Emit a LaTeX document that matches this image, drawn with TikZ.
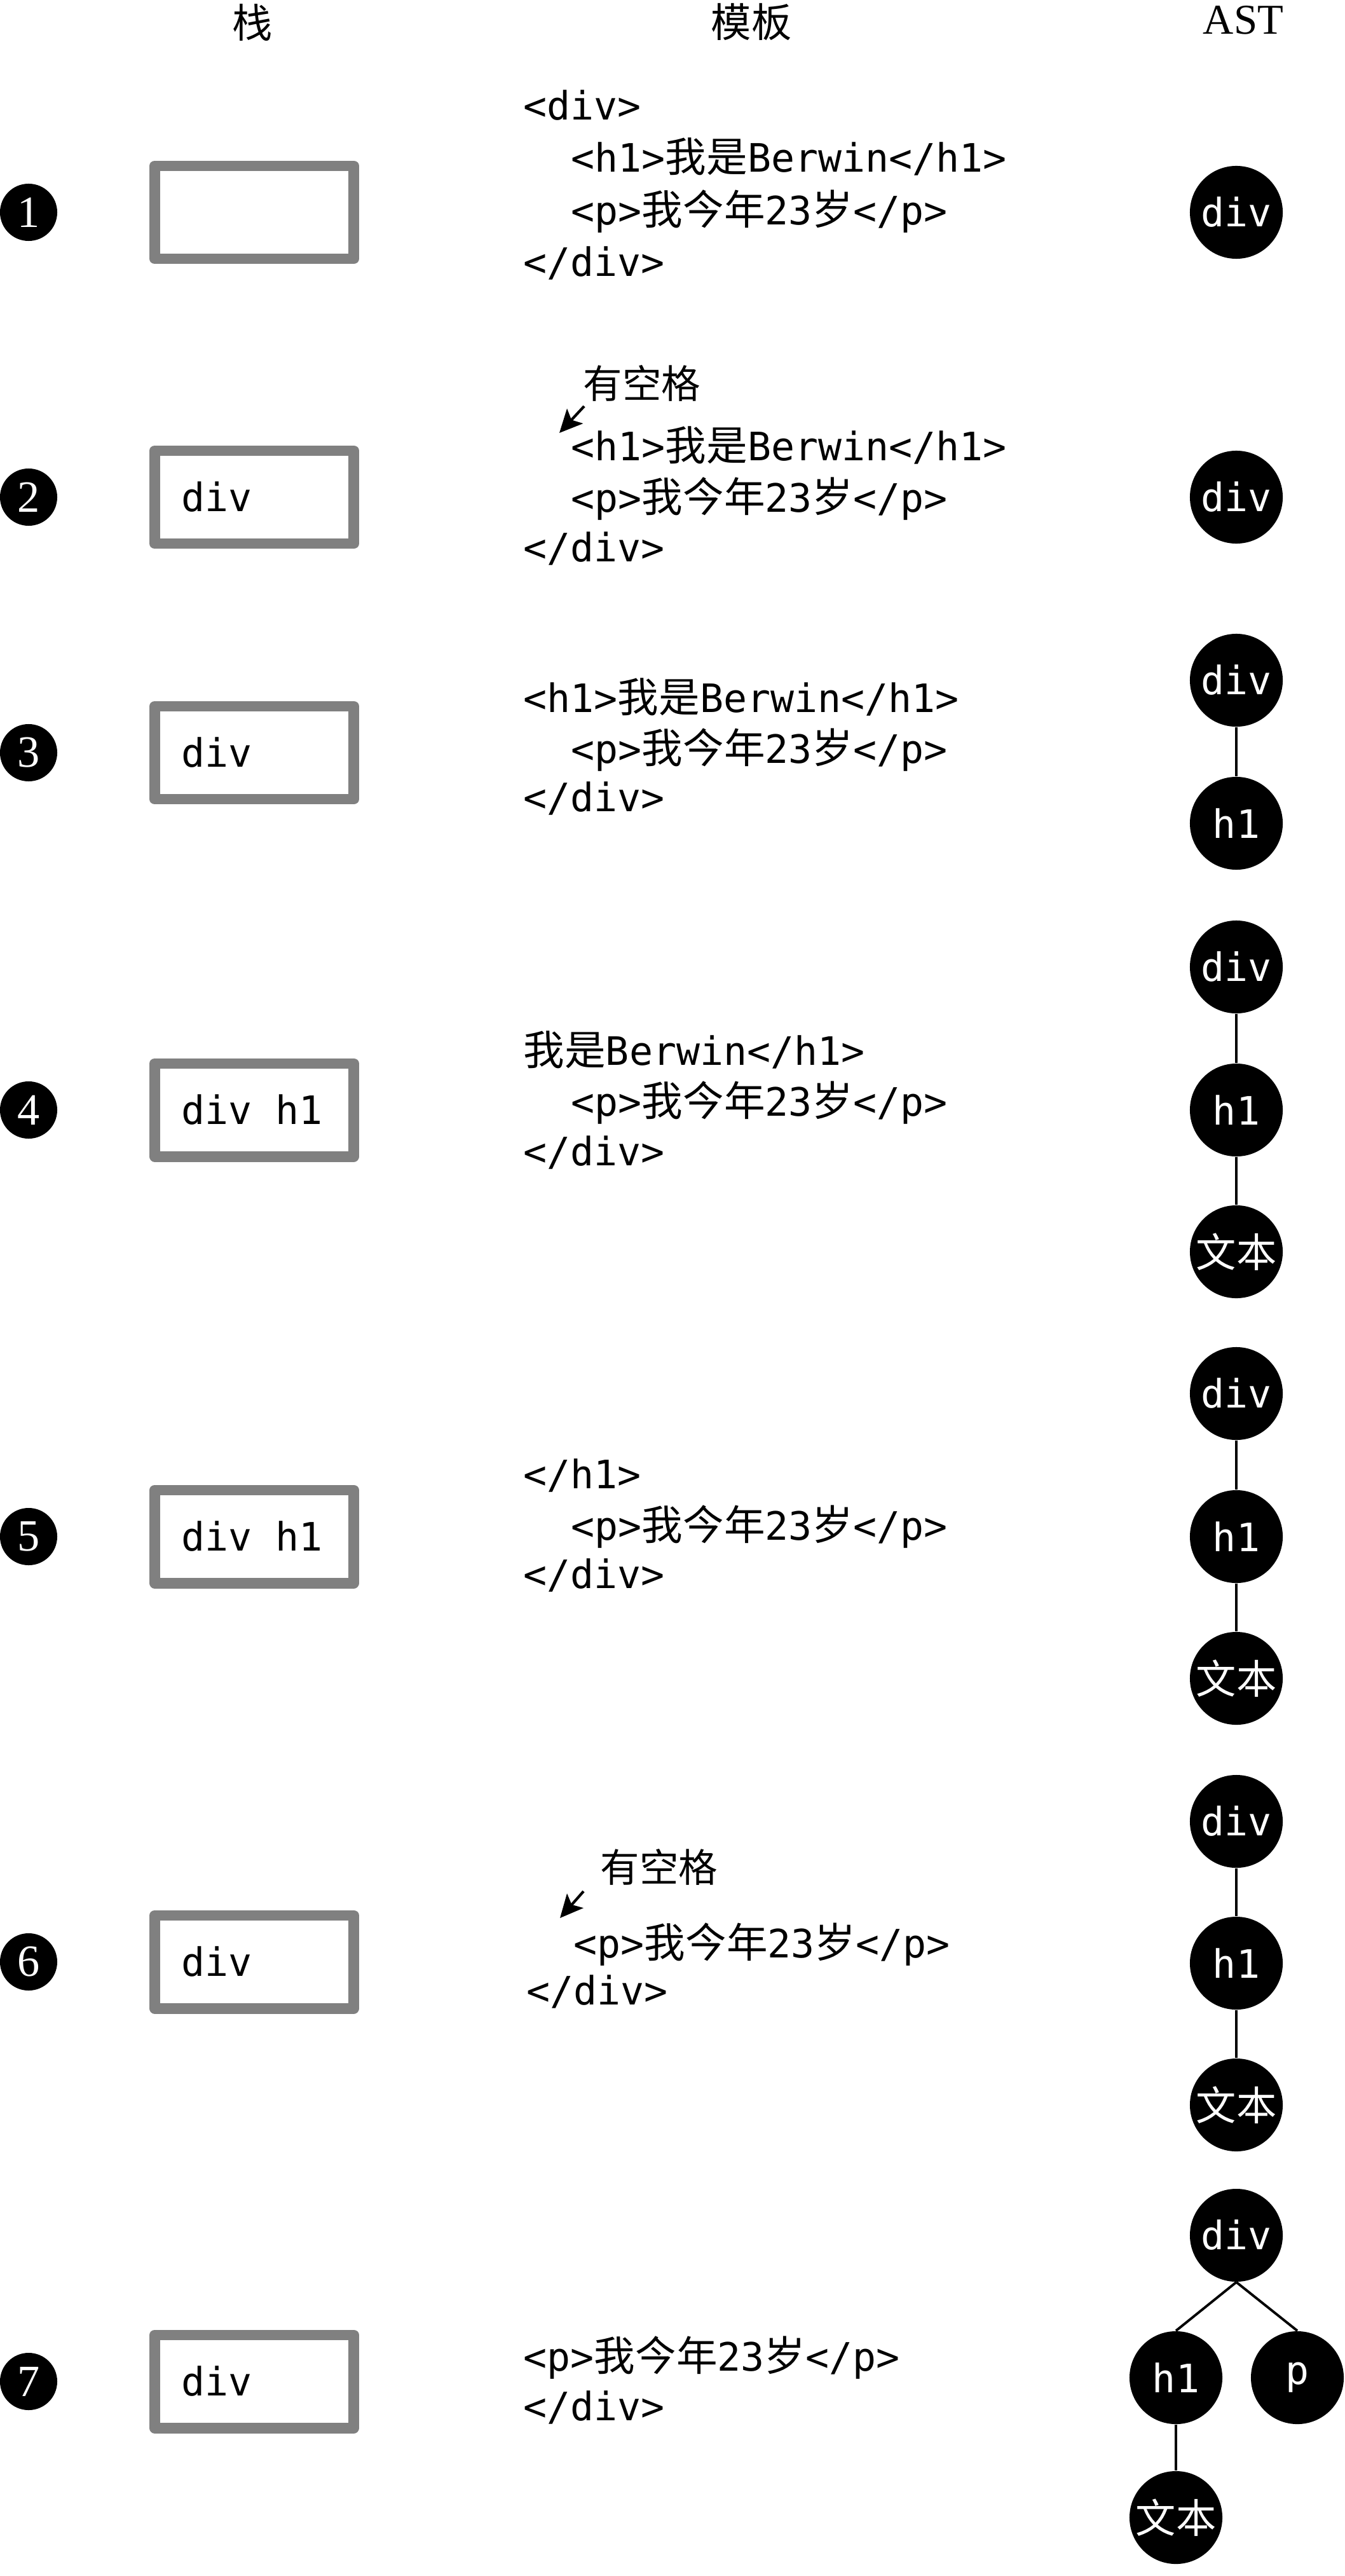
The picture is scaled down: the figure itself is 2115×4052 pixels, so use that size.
\documentclass[tikz,border=0pt]{standalone}
\usepackage{fontspec}
\setmainfont{Liberation Serif}
\setmonofont{DejaVu Sans Mono}
\newfontfamily\cjk{Noto Sans CJK SC}[Scale=1.05]
\newfontfamily\cjkh{Noto Sans CJK SC}
\usetikzlibrary{arrows.meta}
\newcommand{\codefont}{\fontsize{17.5}{21}\selectfont\ttfamily}
\begin{document}
\begin{tikzpicture}[x=0.01cm,y=-0.01cm,
  num/.style={circle,fill=black,minimum size=0.9cm,inner sep=0pt,text=white,font=\fontsize{20}{20}\selectfont\rmfamily},
  stackbox/.style={draw=black!50,line width=4.8pt,line join=round,minimum width=3.13cm,minimum height=1.46cm,inner sep=0pt},
  stacktext/.style={anchor=base west,inner sep=0pt,font=\codefont},
  code/.style={anchor=base west,inner sep=0pt,font=\codefont},
  head/.style={inner sep=0pt},
  note/.style={anchor=west,inner sep=0pt,font=\fontsize{17.5}{20}\selectfont\cjkh},
  ast/.style={circle,fill=black,minimum size=1.46cm,inner sep=0pt,text=white,font=\codefont},
  edge/.style={line width=1.1pt},
  arr/.style={line width=1.2pt,-{Stealth[length=0.36cm,width=0.34cm,inset=0.08cm]}}
]
\useasboundingbox (0,0) rectangle (2115,4052);

% headers
\node[head,font=\fontsize{18}{20}\selectfont\cjkh] (hstack) at (397,35) {栈};
\node[head,font=\fontsize{18}{20}\selectfont\cjkh] (htpl) at (1182,35) {模板};
\node[head,font=\fontsize{19}{20}\selectfont\rmfamily] (hast) at (1956,32) {AST};

% number circles
\node[num] (n1) at (45,334) {1};
\node[num] (n2) at (45,782) {2};
\node[num] (n3) at (45,1184) {3};
\node[num] (n4) at (45,1746) {4};
\node[num] (n5) at (45,2417) {5};
\node[num] (n6) at (45,3086) {6};
\node[num] (n7) at (45,3746) {7};

% stack boxes
\node[stackbox] (s1) at (400,334) {};
\node[stackbox] (s2) at (400,782) {};
\node[stackbox] (s3) at (400,1184) {};
\node[stackbox] (s4) at (400,1746) {};
\node[stackbox] (s5) at (400,2417) {};
\node[stackbox] (s6) at (400,3086) {};
\node[stackbox] (s7) at (400,3746) {};
\node[stacktext] (t2) at (285,804) {div};
\node[stacktext] (t3) at (285,1206) {div};
\node[stacktext] (t4) at (285,1768) {div h1};
\node[stacktext] (t5) at (285,2439) {div h1};
\node[stacktext] (t6) at (285,3108) {div};
\node[stacktext] (t7) at (285,3768) {div};

% template code
% row 1
\node[code] (c1a) at (823,189) {<div>};
\node[code] (c1b) at (898,271) {<h1>{\cjk 我是}Berwin</h1>};
\node[code] (c1c) at (898,354) {<p>{\cjk 我今年}23{\cjk 岁}</p>};
\node[code] (c1d) at (823,435) {</div>};
% row 2
\node[note] (k2) at (917,603) {有空格};
\coordinate (k2s) at (919,639);
\coordinate (k2e) at (880,681);
\draw[arr] (k2s) -- (k2e);
\node[code] (c2b) at (898,724) {<h1>{\cjk 我是}Berwin</h1>};
\node[code] (c2c) at (898,805) {<p>{\cjk 我今年}23{\cjk 岁}</p>};
\node[code] (c2d) at (823,883) {</div>};
% row 3
\node[code] (c3b) at (823,1120) {<h1>{\cjk 我是}Berwin</h1>};
\node[code] (c3c) at (898,1200) {<p>{\cjk 我今年}23{\cjk 岁}</p>};
\node[code] (c3d) at (823,1276) {</div>};
% row 4
\node[code] (c4b) at (823,1675) {{\cjk 我是}Berwin</h1>};
\node[code] (c4c) at (898,1755) {<p>{\cjk 我今年}23{\cjk 岁}</p>};
\node[code] (c4d) at (823,1833) {</div>};
% row 5
\node[code] (c5b) at (823,2341) {</h1>};
\node[code] (c5c) at (898,2422) {<p>{\cjk 我今年}23{\cjk 岁}</p>};
\node[code] (c5d) at (823,2498) {</div>};
% row 6
\node[note] (k6) at (944,2937) {有空格};
\coordinate (k6s) at (918,2975);
\coordinate (k6e) at (881,3017);
\draw[arr] (k6s) -- (k6e);
\node[code] (c6c) at (902,3079) {<p>{\cjk 我今年}23{\cjk 岁}</p>};
\node[code] (c6d) at (828,3153) {</div>};
% row 7
\node[code] (c7c) at (823,3729) {<p>{\cjk 我今年}23{\cjk 岁}</p>};
\node[code] (c7d) at (823,3807) {</div>};

% AST
\node[ast] (a1d) at (1945,334) {div};
\node[ast] (a2d) at (1945,782) {div};

\node[ast] (a3d) at (1945,1070) {div};
\node[ast] (a3h) at (1945,1295) {h1};
\draw[edge] (a3d) -- (a3h);

\node[ast] (a4d) at (1945,1521) {div};
\node[ast] (a4h) at (1945,1746) {h1};
\node[ast,font=\fontsize{18}{20}\selectfont\cjkh] (a4t) at (1945,1969) {文本};
\draw[edge] (a4d) -- (a4h);
\draw[edge] (a4h) -- (a4t);

\node[ast] (a5d) at (1945,2192) {div};
\node[ast] (a5h) at (1945,2417) {h1};
\node[ast,font=\fontsize{18}{20}\selectfont\cjkh] (a5t) at (1945,2640) {文本};
\draw[edge] (a5d) -- (a5h);
\draw[edge] (a5h) -- (a5t);

\node[ast] (a6d) at (1945,2865) {div};
\node[ast] (a6h) at (1945,3088) {h1};
\node[ast,font=\fontsize{18}{20}\selectfont\cjkh] (a6t) at (1945,3311) {文本};
\draw[edge] (a6d) -- (a6h);
\draw[edge] (a6h) -- (a6t);

\node[ast] (a7d) at (1945,3516) {div};
\node[ast] (a7h) at (1850,3740) {h1};
\node[ast] (a7p) at (2041,3740) {p};
\node[ast,font=\fontsize{18}{20}\selectfont\cjkh] (a7t) at (1850,3960) {文本};
\draw[edge] (a7d.south) -- (a7h.north);
\draw[edge] (a7d.south) -- (a7p.north);
\draw[edge] (a7h) -- (a7t);
\end{tikzpicture}
\end{document}
